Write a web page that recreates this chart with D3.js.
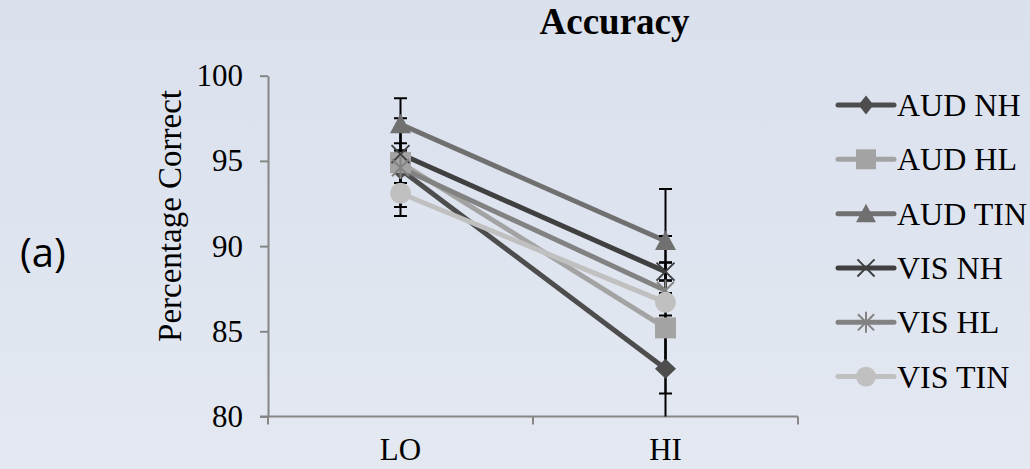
<!DOCTYPE html>
<html>
<head>
<meta charset="utf-8">
<script src="https://cdn.jsdelivr.net/npm/d3@7"></script>
<style>
  html, body { margin: 0; padding: 0; }
  body { width: 1030px; height: 469px; overflow: hidden; }
</style>
</head>
<body>
<div id="container"></div>
<script>
// categories and series
const categories = ["LO", "HI"];
const seriesNames = ["AUD NH", "AUD HL", "AUD TIN", "VIS NH", "VIS HL", "VIS TIN"];
const audNH = [94.5, 82.8];
const audHL = [94.9, 85.2];
const audTIN = [97.15, 90.3];
const visNH = [95.4, 88.5];
const visHL = [94.6, 87.4];
const visTIN = [93.1, 86.7];
// error bar half widths (+/-)
const audNHErr = [2.2, 3.12];
const audHLErr = [2.6, 3.85];
const audTINErr = [1.52, 3.05];
const visNHErr = [0.63, 0.53];
const visHLErr = [0.9, 0.6];
const visTINErr = [1.34, 3.9];
const yTicks = [80, 85, 90, 95, 100];

const SERIF = "'Liberation Serif', 'Times New Roman', serif";

const series = [
  { name: seriesNames[0], values: audNH, err: audNHErr, color: "#4d4d4d", marker: "diamond" },
  { name: seriesNames[1], values: audHL, err: audHLErr, color: "#a3a3a3", marker: "square" },
  { name: seriesNames[2], values: audTIN, err: audTINErr, color: "#707070", marker: "triangle" },
  { name: seriesNames[3], values: visNH, err: visNHErr, color: "#404040", marker: "x" },
  { name: seriesNames[4], values: visHL, err: visHLErr, color: "#828282", marker: "star" },
  { name: seriesNames[5], values: visTIN, err: visTINErr, color: "#c0c0c0", marker: "circle" }
];

const W = 1030, H = 469;
const plot = { left: 268, right: 798, top: 75.7, bottom: 416.5 };

const svg = d3.select("#container").append("svg")
  .attr("width", W)
  .attr("height", H);

// background gradient
const defs = svg.append("defs");
const grad = defs.append("linearGradient")
  .attr("id", "bg").attr("x1", 0).attr("y1", 0).attr("x2", 0).attr("y2", 1);
grad.append("stop").attr("offset", "0%").attr("stop-color", "#dae1ed");
grad.append("stop").attr("offset", "100%").attr("stop-color", "#e3e8f1");
svg.append("rect").attr("width", W).attr("height", H).attr("fill", "url(#bg)");

defs.append("clipPath").attr("id", "plotClip")
  .append("rect")
  .attr("x", plot.left - 20).attr("y", plot.top - 20)
  .attr("width", plot.right - plot.left + 40)
  .attr("height", plot.bottom - plot.top + 20);

const x = d3.scaleBand()
  .domain(categories)
  .range([plot.left, plot.right])
  .padding(0);
const xc = c => x(c) + x.bandwidth() / 2;

const y = d3.scaleLinear()
  .domain([80, 100])
  .range([plot.bottom, plot.top]);

// title
svg.append("text")
  .attr("x", 614.5).attr("y", 34)
  .attr("text-anchor", "middle")
  .style("font-family", SERIF)
  .style("font-size", "37px").style("font-weight", "bold")
  .text("Accuracy");

// panel label
svg.append("text")
  .attr("x", 20).attr("y", 267)
  .style("font-family", "'Open Sans', sans-serif")
  .style("font-size", "40px")
  .text("(a)");

// y axis
const yAxis = d3.axisLeft(y)
  .tickValues(yTicks)
  .tickSize(8)
  .tickSizeOuter(0)
  .tickPadding(17)
  .tickFormat(d3.format("d"));

const gy = svg.append("g")
  .attr("transform", `translate(${plot.left},0)`)
  .call(yAxis);
gy.select(".domain").attr("stroke", "#868686").attr("stroke-width", 2);
gy.selectAll(".tick line").attr("stroke", "#868686").attr("stroke-width", 2);
gy.selectAll(".tick text")
  .style("font-family", SERIF)
  .style("font-size", "31px")
  .attr("fill", "#000");

// y axis title
svg.append("text")
  .attr("transform", "translate(181,216) rotate(-90)")
  .attr("text-anchor", "middle")
  .style("font-family", SERIF)
  .style("font-size", "33px")
  .text("Percentage Correct");

// x axis
const gx = svg.append("g");
gx.append("line")
  .attr("x1", plot.left - 8).attr("x2", plot.right)
  .attr("y1", plot.bottom).attr("y2", plot.bottom)
  .attr("stroke", "#868686").attr("stroke-width", 2);
const bounds = categories.map(c => x(c)).concat([x(categories[categories.length - 1]) + x.bandwidth()]);
gx.selectAll("line.tick")
  .data(bounds)
  .join("line")
  .attr("class", "tick")
  .attr("x1", d => d).attr("x2", d => d)
  .attr("y1", plot.bottom).attr("y2", plot.bottom + 8)
  .attr("stroke", "#868686").attr("stroke-width", 2);
gx.selectAll("text")
  .data(categories)
  .join("text")
  .attr("x", d => xc(d))
  .attr("y", 460)
  .attr("text-anchor", "middle")
  .style("font-family", SERIF)
  .style("font-size", "31px")
  .text(d => d);

// markers
function marker(g, type, cx, cy, color, legend) {
  const s = legend ? 0.95 : 1;
  if (type === "diamond") {
    const hw = legend ? 7.5 : 10.5, hh = legend ? 9.5 : 10;
    g.append("path")
      .attr("d", `M${cx},${cy - hh}L${cx + hw},${cy}L${cx},${cy + hh}L${cx - hw},${cy}Z`)
      .attr("fill", color);
  } else if (type === "square") {
    g.append("rect")
      .attr("x", cx - 10.5 * s).attr("y", cy - 10.5 * s)
      .attr("width", 21 * s).attr("height", 21 * s)
      .attr("fill", color);
  } else if (type === "triangle") {
    g.append("path")
      .attr("d", `M${cx},${cy - 10.5 * s}L${cx + 10.5 * s},${cy + 9 * s}L${cx - 10.5 * s},${cy + 9 * s}Z`)
      .attr("fill", color);
  } else if (type === "x") {
    const r = 9 * s;
    g.append("path")
      .attr("d", `M${cx - r},${cy - r}L${cx + r},${cy + r}M${cx - r},${cy + r}L${cx + r},${cy - r}`)
      .attr("stroke", color).attr("stroke-width", 2).attr("fill", "none");
  } else if (type === "star") {
    const r = 8.5 * s;
    g.append("path")
      .attr("d", `M${cx - r},${cy - r}L${cx + r},${cy + r}M${cx - r},${cy + r}L${cx + r},${cy - r}M${cx},${cy - 11 * s}L${cx},${cy + 11 * s}`)
      .attr("stroke", color).attr("stroke-width", 2).attr("fill", "none");
  } else if (type === "circle") {
    g.append("circle")
      .attr("cx", cx).attr("cy", cy).attr("r", 10.5 * s)
      .attr("fill", color);
  }
}

// series lines
const line = d3.line()
  .x((d, i) => xc(categories[i]))
  .y(d => y(d));

const gLines = svg.append("g");
series.forEach(s => {
  gLines.append("path")
    .attr("d", line(s.values))
    .attr("fill", "none")
    .attr("stroke", s.color)
    .attr("stroke-width", 5);
});

// error bars
const gErr = svg.append("g").attr("clip-path", "url(#plotClip)");
series.forEach(s => {
  s.values.forEach((v, i) => {
    const cx = xc(categories[i]);
    const lo = y(v - s.err[i]), hi = y(v + s.err[i]);
    gErr.append("line")
      .attr("x1", cx).attr("x2", cx).attr("y1", lo).attr("y2", hi)
      .attr("stroke", "#000").attr("stroke-width", 2);
    [lo, hi].forEach(yy => {
      gErr.append("line")
        .attr("x1", cx - 6.5).attr("x2", cx + 6.5).attr("y1", yy).attr("y2", yy)
        .attr("stroke", "#000").attr("stroke-width", 2);
    });
  });
});

// markers on top
const gMarks = svg.append("g");
series.forEach(s => {
  s.values.forEach((v, i) => marker(gMarks, s.marker, xc(categories[i]), y(v), s.color, false));
});

// legend
const legend = svg.append("g");
const legendY = d3.scalePoint()
  .domain(seriesNames)
  .range([105, 376.6]);
series.forEach(s => {
  const ly = legendY(s.name);
  legend.append("line")
    .attr("x1", 838).attr("x2", 894).attr("y1", ly).attr("y2", ly)
    .attr("stroke", s.color).attr("stroke-width", 5)
    .attr("stroke-linecap", "round");
  marker(legend, s.marker, 866, ly, s.color, true);
  legend.append("text")
    .attr("x", 897).attr("y", ly + 11)
    .style("font-family", SERIF)
    .style("font-size", "32px")
    .text(s.name);
});
</script>
</body>
</html>
